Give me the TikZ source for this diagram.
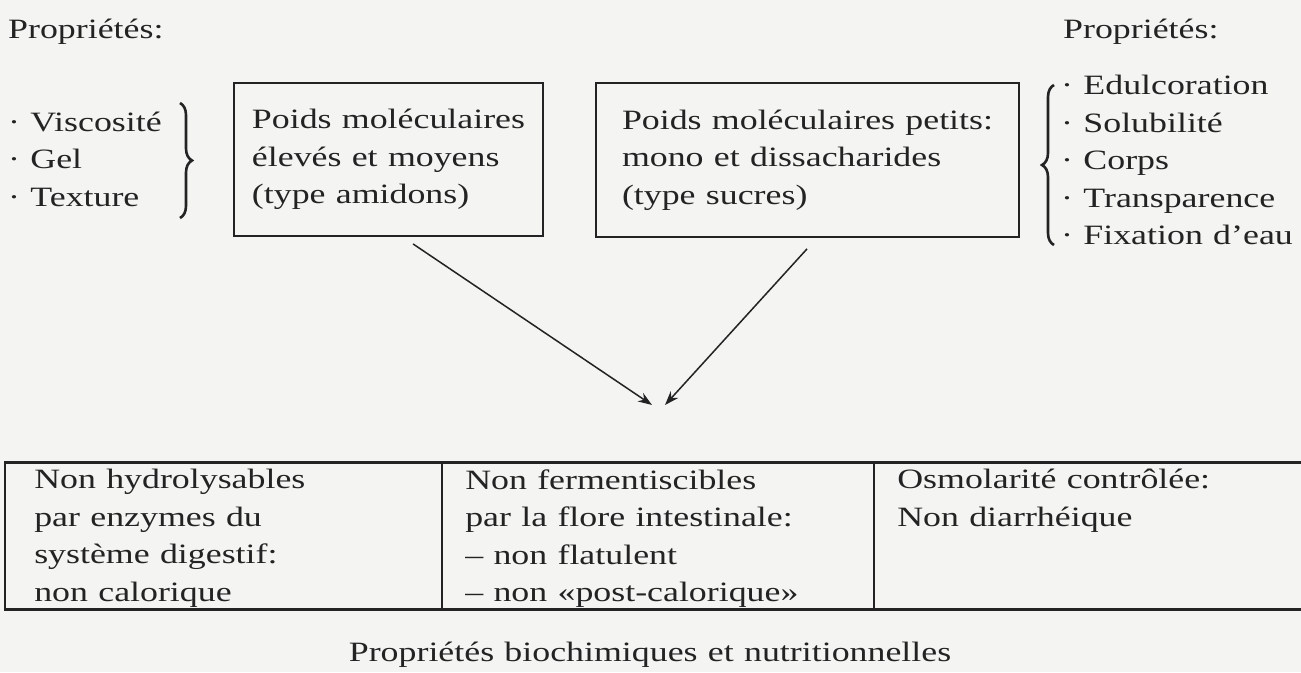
\documentclass[tikz,border=0pt]{standalone}
\usepackage{fontspec}
\setmainfont{Liberation Serif}[FakeStretch=1.28,WordSpace=1.15]
\usepackage{tikz}
\usetikzlibrary{arrows.meta,decorations.pathreplacing,positioning}
\definecolor{ink}{RGB}{35,35,35}
\definecolor{paper}{RGB}{244,244,242}
\tikzset{
  every node/.style={text=ink,font=\fontsize{28}{37.5}\selectfont},
  box/.style={draw=ink,line width=1.8pt,inner xsep=0pt,inner ysep=0pt,align=left},
  cell/.style={draw=ink,line width=1.8pt,minimum height=146pt,inner sep=0pt},
  txt/.style={align=left,inner sep=0pt},
  arr/.style={draw=ink,line width=1.5pt,-{Stealth[length=14pt,width=10pt]}},
  rule/.style={draw=ink,line width=2.8pt},
  curly/.style={draw=ink,line width=2.6pt,decorate,decoration={brace,amplitude=12pt}},
}

\begin{document}
\begin{tikzpicture}[x=1pt,y=1pt]
\fill[paper] (0,0) rectangle (1301,-672);
\useasboundingbox (0,0) rectangle (1301,-672);
\node[txt,anchor=west] (propleft) at (8,-32) {Propriétés:};
\node[txt,anchor=west] (bulk) at (8,-159) {· Viscosité\\· Gel\\· Texture};
\draw[curly] (180,-103) -- (180,-218);
\node[box,minimum width=309pt,minimum height=153pt] (heavy) at (388.5,-159.5)
  {Poids moléculaires\\élevés et moyens\\(type amidons)};
\node[box,minimum width=423pt,minimum height=154pt] (light) at (807.5,-160)
  {Poids moléculaires petits:\\mono et dissacharides\\(type sucres)};
\node[txt,anchor=west] (propright) at (1063,-32) {Propriétés:};
\draw[curly] (1054,-245) -- (1054,-85);
\node[txt,anchor=west] (sweet) at (1061,-160)
  {· Edulcoration\\· Solubilité\\· Corps\\· Transparence\\· Fixation d’eau};
\coordinate (hit) at (658,-405);
\draw[arr] ([xshift=24.5pt,yshift=-7pt]heavy.south) -- ([xshift=-6pt]hit);
\draw[arr] ([xshift=-0.5pt,yshift=-11pt]light.south) -- ([xshift=7pt]hit);
\node[cell,minimum width=437pt] (digest) at (223.5,-536) {};
\node[cell,minimum width=432pt] (ferment) at (658,-536) {};
\node[cell,minimum width=446pt] (osmo) at (1097,-536) {};
\draw[rule] (digest.north west) -- (osmo.north east);
\draw[rule] (digest.south west) -- (osmo.south east);
\node[txt,anchor=north west] (nohydro) at ([xshift=30pt,yshift=-7pt]digest.north west)
  {Non hydrolysables\\par enzymes du\\système digestif:\\non calorique};
\node[txt,anchor=north west] (noferm) at ([xshift=24pt,yshift=-7pt]ferment.north west)
  {Non fermentiscibles\\par la flore intestinale:\\– non flatulent\\– non «post-calorique»};
\node[txt,anchor=north west] (nodiarr) at ([xshift=24pt,yshift=-7pt]osmo.north west)
  {Osmolarité contrôlée:\\Non diarrhéique};
\node (caption) at (650,-655) {Propriétés biochimiques et nutritionnelles};
\end{tikzpicture}
\end{document}
